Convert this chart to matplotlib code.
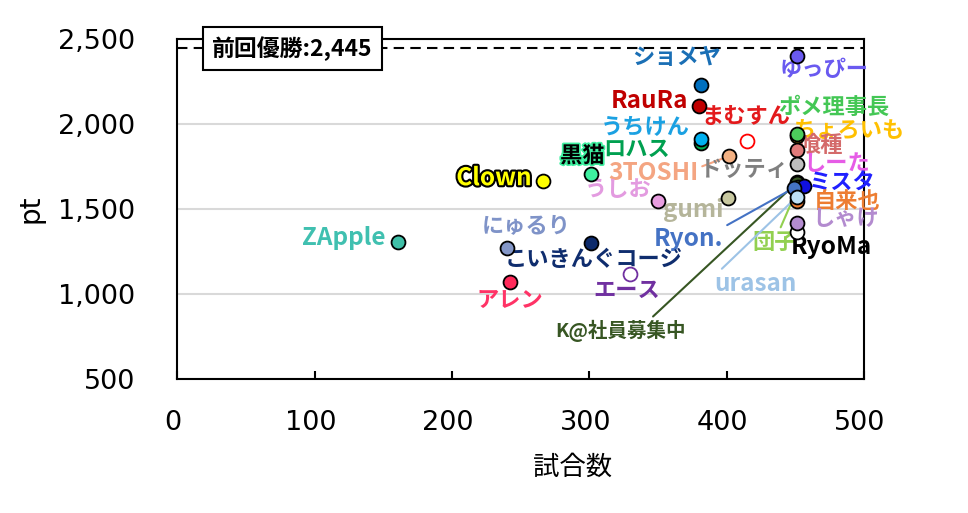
import matplotlib
matplotlib.use('Agg')
import matplotlib.pyplot as plt
import matplotlib.patheffects as pe
import matplotlib.transforms as mtransforms
from matplotlib.ticker import FuncFormatter

plt.rcParams['font.family'] = ['Noto Sans CJK JP', 'DejaVu Sans']

# data: name, games played, points
names = ['ロハス', 'うちけん', 'ゆっぴー', 'ショメヤ', 'RauRa', 'まむすん', '3TOSHI',
         'ちょろいも', 'ポメ理事長', '喰種', 'ドッティ', 'しーた', 'K@社員募集中', '団子',
         'ミスタ', 'Ryon.', '自来也', 'urasan', 'RyoMa', 'しゃけ',
         '黒猫', 'Clown', 'うしお', 'gumi', 'ZApple', 'にゅるり', 'こいきんぐコージ',
         'エース', 'アレン']
games = [381, 381, 451, 381, 380, 415, 402,
         451, 451, 451, 451, 451, 451, 452,
         456, 449, 451, 451, 451, 451,
         301, 266, 350, 401, 161, 240, 301,
         330, 242]
points = [1890, 1912, 2400, 2230, 2105, 1900, 1812,
          1930, 1941, 1847, 1765, 1660, 1655, 1628,
          1635, 1624, 1547, 1571, 1365, 1418,
          1706, 1665, 1547, 1565, 1306, 1271, 1300,
          1118, 1071]
last_winner = 2445

# styles
face = ['#00b050', '#00b0f0', '#6a5af0', '#0070c0', '#c00000', 'white', '#f4b183',
        '#ffc000', '#4ccc5c', '#e07b7b', '#bfbfbf', '#ff40ff', '#375623', '#92d050',
        '#1010e0', '#4472c4', '#ed7d31', '#bde0f5', 'white', '#b48cd0',
        '#3ef0a0', '#ffff00', '#e89ee0', '#c8c8a0', '#40c0a8', '#8497c8', '#0c2a6b',
        'white', '#ff2a5a']
edge = ['black'] * len(names)
edge[names.index('まむすん')] = '#ff0000'
edge[names.index('エース')] = '#7030a0'
txtcol = ['#00a050', '#1ba1e2', '#6a5af0', '#1a6fb5', '#c00000', '#e31a1c', '#f4a582',
          '#ffc000', '#44c755', '#d46a6a', '#808080', '#e65ce6', '#375623', '#92d050',
          '#2020ff', '#4472c4', '#ed7d31', '#9dc3e6', 'black', '#b38bcf',
          'black', '#ffff00', '#e39be0', '#b5b59a', '#40c0b0', '#7f93c8', '#0f2d6e',
          '#7030a0', '#ff3366']
offsets = {'ロハス': (-46, -5), 'うちけん': (-40, 9), 'ゆっぴー': (20, -10),
           'ショメヤ': (-17, 20), 'RauRa': (-36, 4), 'まむすん': (-1, 18),
           '3TOSHI': (-55, -12), 'ちょろいも': (38, 4), 'ポメ理事長': (27, 19),
           '喰種': (17, 3), 'ドッティ': (-38, -4), 'しーた': (29, 13),
           'K@社員募集中': (-127, -107), '団子': (-17, -40), 'ミスタ': (28, 2),
           'Ryon.': (-76, -37), '自来也': (36, 0), 'urasan': (-30, -63),
           'RyoMa': (25, -11), 'しゃけ': (35, 3), '黒猫': (-6, 13), 'Clown': (-35, 2),
           'うしお': (-29, 8), 'gumi': (-25, -9), 'ZApple': (-39, 3),
           'にゅるり': (14, 16), 'こいきんぐコージ': (2, -12), 'エース': (-3, -12),
           'アレン': (0, -13)}
leaders = {'3TOSHI': (1.0, 0.7), 'Ryon.': (1.0, 1.0), '団子': (0.6, 1.0),
           'urasan': (0.05, 1.0), 'K@社員募集中': (0.72, 1.0)}

fig = plt.figure(figsize=(9.68, 5.13), dpi=100)
ax = fig.add_axes([0.183, 0.261, 0.7096, 0.663])

for i, n in enumerate(names):
    ax.scatter(games[i], points[i], s=100, c=face[i], edgecolors=edge[i],
               linewidths=1.3, zorder=5 + i * 0.01)

for i, n in enumerate(names):
    kw = dict(textcoords='offset points', ha='center', va='center',
              fontsize=16, fontweight='bold', color=txtcol[i], zorder=4)
    if n in leaders:
        kw['arrowprops'] = dict(arrowstyle='-', color=txtcol[i], lw=1.5,
                                shrinkA=1, shrinkB=0, relpos=leaders[n])
    if n == 'K@社員募集中':
        kw['fontsize'] = 14
    if n.isascii():
        kw['fontsize'] = kw['fontsize'] + 1.5
    t = ax.annotate(n, (games[i], points[i]), xytext=offsets[n], **kw)
    if n == 'Clown':
        t.set_path_effects([pe.withStroke(linewidth=3, foreground='black')])
    if n == '黒猫':
        t.set_path_effects([pe.withStroke(linewidth=2.5, foreground='#3ef0a0')])

# previous winner line
ax.axhline(last_winner, color='black', lw=1.5, ls=(0, (5, 3)), zorder=2)
ax.text(84, last_winner, '前回優勝:2,445', ha='center', va='center', fontsize=16.5,
        fontweight='bold', zorder=6,
        bbox=dict(boxstyle='square,pad=0.4', fc='white', ec='black', lw=1.5))

ax.set_xlim(0, 500)
ax.set_ylim(500, 2500)
ax.set_xticks(range(0, 501, 100))
ax.set_yticks(range(500, 2501, 500))
ax.yaxis.set_major_formatter(FuncFormatter(lambda v, p: f'{int(v):,}'))
ax.grid(axis='y', color='#d9d9d9', lw=1.5, zorder=0)
ax.set_axisbelow(True)
for s in ax.spines.values():
    s.set_linewidth(1.5)
ax.tick_params(axis='x', direction='in', length=6, width=1.5, pad=22, labelsize=19.5)
ax.tick_params(axis='y', length=0, pad=30, labelsize=19.5)
shift = mtransforms.ScaledTranslation(-4 / 100, 0, fig.dpi_scale_trans)
for lab in ax.get_xticklabels():
    lab.set_fontfamily('DejaVu Sans')
    lab.set_transform(lab.get_transform() + shift)
for lab in ax.get_yticklabels():
    lab.set_fontfamily('DejaVu Sans')
ax.set_xlabel('試合数', fontsize=19)
ax.xaxis.set_label_coords(0.575, -0.22)
ax.set_ylabel('pt', fontsize=20, labelpad=10, family='DejaVu Sans')

fig.savefig('out.png', dpi=100)
